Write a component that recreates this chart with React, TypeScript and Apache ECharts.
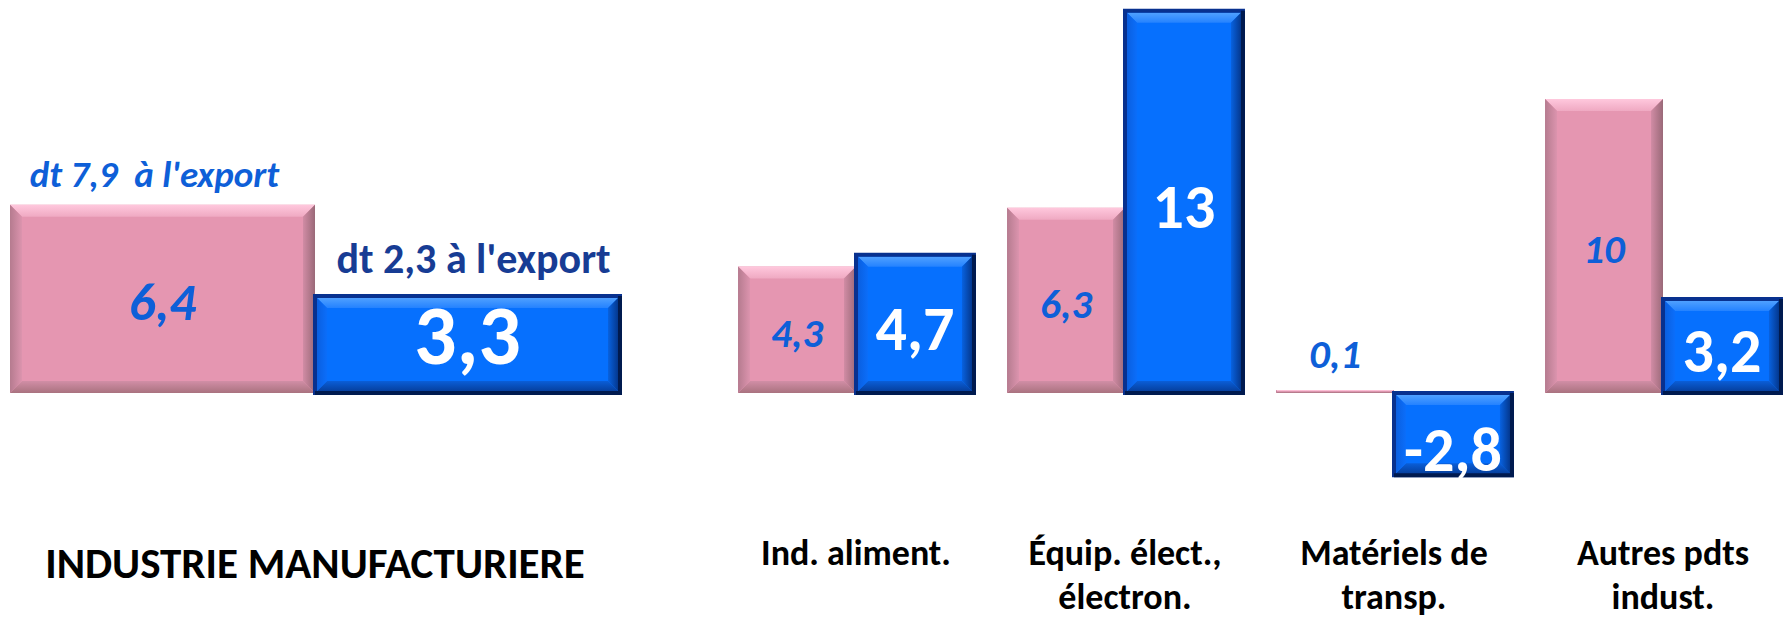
import React, { useEffect, useRef } from 'react';
import * as echarts from 'echarts';

// ---------- data ----------
const mainCategory = ['INDUSTRIE MANUFACTURIERE'];
const mainFirst = [6.4];
const mainSecond = [3.3];
const mainNotes = ["dt 7,9  à l'export", "dt 2,3 à l'export"];

const branchCategories = [
  'Ind. aliment.',
  'Équip. élect.,\nélectron.',
  'Matériels de\ntransp.',
  'Autres pdts\nindust.',
];
const branchFirst = [4.3, 6.3, 0.1, 10];
const branchSecond = [4.7, 13, -2.8, 3.2];

// ---------- style ----------
const FONT = "Carlito, 'Liberation Sans Narrow', 'Noto Sans', sans-serif";
const PINK = '#E596B1';
const BLUE = '#0670FE';
const LABEL_BLUE = '#0E5FD8';
const NOTE_NAVY = '#173C94';

const Y_MIN = -4;
const Y_MAX = 13.35;
const GRID_TOP = 0.5;
const GRID_H = 510.1;
const MAIN_GAP = 0;
const BRANCH_GAP = 0.123;

const fmt = (v: number) => String(v).replace('.', ',');

const lin = (x: number, y: number, x2: number, y2: number, a: string, b: string) =>
  new echarts.graphic.LinearGradient(x, y, x2, y2, [
    { offset: 0, color: a },
    { offset: 1, color: b },
  ]);

const poly = (points: number[][], fill: any) => ({
  type: 'polygon',
  shape: { points },
  style: { fill },
  silent: true,
});

function bevelStrips(x0: number, x1: number, yT: number, yB: number, bMax: number, c: any) {
  const h = yB - yT;
  const w = x1 - x0;
  const b = Math.min(bMax, h / 2, w / 2);
  if (h <= 0.5) return [];
  return [
    poly([[x0, yT], [x1, yT], [x1 - b, yT + b], [x0 + b, yT + b]], lin(0, 0, 0, 1, c.top[0], c.top[1])),
    poly([[x0, yB], [x1, yB], [x1 - b, yB - b], [x0 + b, yB - b]], lin(0, 0, 0, 1, c.bottom[0], c.bottom[1])),
    poly([[x0, yT], [x0 + b, yT + b], [x0 + b, yB - b], [x0, yB]], lin(0, 0, 1, 0, c.left[0], c.left[1])),
    poly([[x1, yT], [x1 - b, yT + b], [x1 - b, yB - b], [x1, yB]], lin(0, 0, 1, 0, c.right[0], c.right[1])),
  ];
}

const PINK_BEVEL = {
  top: ['#FFC8DD', '#EFA9C2'],
  bottom: ['#D18EA6', '#A9727F'],
  left: ['#B57B8F', '#DC94AE'],
  right: ['#D18CA5', '#9A6978'],
};
const BLUE_BEVEL = {
  top: ['#4FA0FF', '#2482FF'],
  bottom: ['#0A5ED8', '#06409F'],
  left: ['#0A5FE0', '#0B6EFA'],
  right: ['#0862E0', '#04388F'],
};

function pinkBar(x0: number, x1: number, yT: number, yB: number) {
  return bevelStrips(x0, x1, yT, yB, 12, PINK_BEVEL);
}

function blueBar(x0: number, x1: number, yT: number, yB: number) {
  const els: any[] = bevelStrips(x0 + 2, x1 - 2, yT + 2, yB - 2, 10, BLUE_BEVEL);
  els.push({
    type: 'rect',
    shape: { x: x0, y: yT, width: x1 - x0, height: yB - yT },
    style: { fill: 'none', stroke: '#08318F', lineWidth: 4 },
    silent: true,
  });
  els.push({
    type: 'polyline',
    shape: { points: [[x1, yT], [x1, yB], [x0, yB]] },
    style: { fill: 'none', stroke: '#001A4F', lineWidth: 4 },
    silent: true,
  });
  return els;
}

function valueText(
  v: number,
  cx: number,
  yT: number,
  yB: number,
  size: number,
  italic: boolean,
  color: string,
  shift: number
) {
  const h = yB - yT;
  const inside = h >= size * 0.9;
  const s = v < 0 ? 0.25 : shift;
  return {
    type: 'text',
    x: cx,
    y: inside ? (yT + yB) / 2 + size * s : yT - 16,
    silent: true,
    style: {
      text: fmt(v),
      fill: color,
      fontFamily: FONT,
      fontWeight: 'bold',
      fontStyle: italic ? 'italic' : 'normal',
      fontSize: size,
      align: 'center',
      verticalAlign: inside ? 'middle' : 'bottom',
    },
  };
}

function makeRenderer(cfg: {
  gap: number;
  small: number;
  big: number;
  smallShift: number;
  bigShift: number;
  notes?: string[];
}) {
  return (params: any, api: any) => {
    const i = api.value(0);
    const v1 = api.value(1);
    const v2 = api.value(2);
    const base = api.coord([i, 0]);
    const cx = base[0];
    const y0 = base[1];
    const band = api.size([1, 0])[0];
    const bw = (band * (1 - cfg.gap)) / 2;
    const y1 = api.coord([i, v1])[1];
    const y2 = api.coord([i, v2])[1];
    const p0 = cx - bw;
    const p1 = cx;
    const q0 = cx;
    const q1 = cx + bw;
    const pT = Math.min(y0, y1);
    const pB = Math.max(y0, y1);
    const qT = Math.min(y0, y2);
    const qB = Math.max(y0, y2);
    const children: any[] = [];
    children.push(...pinkBar(p0, p1, pT, pB));
    children.push(...blueBar(q0, q1, qT, qB));
    children.push(valueText(v1, (p0 + p1) / 2, pT, pB, cfg.small, true, LABEL_BLUE, cfg.smallShift));
    children.push(valueText(v2, (q0 + q1) / 2, qT, qB, cfg.big, false, '#FFFFFF', cfg.bigShift));
    if (cfg.notes) {
      children.push({
        type: 'text',
        x: (p0 + p1) / 2 - 8,
        y: pT - 12,
        silent: true,
        style: {
          text: cfg.notes[0],
          fill: LABEL_BLUE,
          fontFamily: FONT,
          fontWeight: 'bold',
          fontStyle: 'italic',
          fontSize: 37,
          align: 'center',
          verticalAlign: 'bottom',
        },
      });
      children.push({
        type: 'text',
        x: (q0 + q1) / 2 + 6,
        y: qT - 16,
        silent: true,
        style: {
          text: cfg.notes[1],
          fill: NOTE_NAVY,
          fontFamily: FONT,
          fontWeight: 'bold',
          fontSize: 42,
          align: 'center',
          verticalAlign: 'bottom',
        },
      });
    }
    return { type: 'group', children };
  };
}

const catAxis = (
  gridIndex: number,
  data: string[],
  fontSize: number,
  margin: number,
  lineHeight: number
) => ({
  type: 'category',
  gridIndex,
  data,
  axisLine: { show: false },
  axisTick: { show: false },
  splitLine: { show: false },
  axisLabel: {
    interval: 0,
    margin,
    color: '#000000',
    fontFamily: FONT,
    fontWeight: 'bold',
    fontSize,
    lineHeight,
  },
});

const valAxis = (gridIndex: number) => ({
  type: 'value',
  gridIndex,
  min: Y_MIN,
  max: Y_MAX,
  show: false,
  splitLine: { show: false },
});

const barSeries = (
  name: string,
  axis: number,
  data: number[],
  color: string,
  gap: number
) => ({
  type: 'bar',
  name,
  xAxisIndex: axis,
  yAxisIndex: axis,
  data,
  barGap: '0%',
  barCategoryGap: `${gap * 100}%`,
  silent: true,
  itemStyle: { color },
  z: 2,
});

export default function App() {
  const ref = useRef<HTMLDivElement>(null);
  useEffect(() => {
    if (!ref.current) return;
    const chart = echarts.init(ref.current, null, { renderer: 'svg' });
    chart.setOption({
      animation: false,
      backgroundColor: '#FFFFFF',
      grid: [
        { left: 10, width: 610, top: GRID_TOP, height: GRID_H, outerBoundsMode: 'none', containLabel: false },
        { left: 721.5, width: 1076, top: GRID_TOP, height: GRID_H, outerBoundsMode: 'none', containLabel: false },
      ],
      xAxis: [
        catAxis(0, mainCategory, 43, 34, 38),
        catAxis(1, branchCategories, 36, 20, 44.5),
      ],
      yAxis: [valAxis(0), valAxis(1)],
      series: [
        barSeries('Série 1', 0, mainFirst, PINK, MAIN_GAP),
        barSeries('Série 2', 0, mainSecond, BLUE, MAIN_GAP),
        barSeries('Série 1', 1, branchFirst, PINK, BRANCH_GAP),
        barSeries('Série 2', 1, branchSecond, BLUE, BRANCH_GAP),
        {
          type: 'custom',
          xAxisIndex: 0,
          yAxisIndex: 0,
          clip: false,
          silent: true,
          z: 5,
          encode: { x: 0, y: [1, 2] },
          data: mainCategory.map((_, i) => [i, mainFirst[i], mainSecond[i]]),
          renderItem: makeRenderer({
            gap: MAIN_GAP,
            small: 53,
            big: 84,
            smallShift: 0.06,
            bigShift: -0.11,
            notes: mainNotes,
          }),
        },
        {
          type: 'custom',
          xAxisIndex: 1,
          yAxisIndex: 1,
          clip: false,
          silent: true,
          z: 5,
          encode: { x: 0, y: [1, 2] },
          data: branchCategories.map((_, i) => [i, branchFirst[i], branchSecond[i]]),
          renderItem: makeRenderer({
            gap: BRANCH_GAP,
            small: 41,
            big: 62,
            smallShift: 0.08,
            bigShift: 0.08,
          }),
        },
      ],
    });
    return () => chart.dispose();
  }, []);
  return (
    <div
      ref={ref}
      style={{ position: 'fixed', left: 0, top: 0, width: 1784, height: 621, background: '#FFFFFF' }}
    />
  );
}
